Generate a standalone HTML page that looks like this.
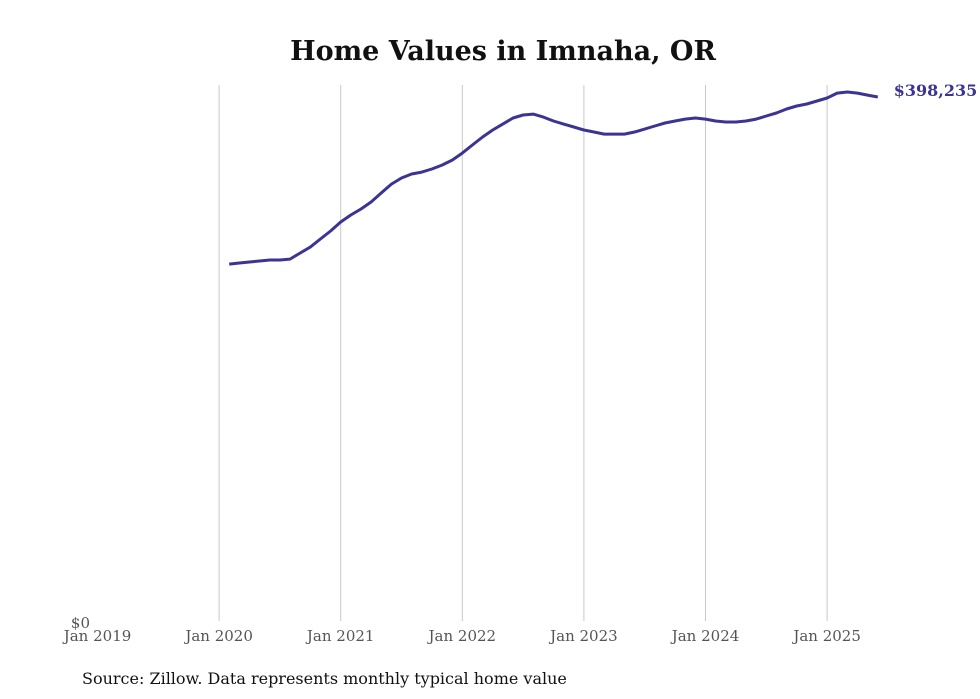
<!DOCTYPE html>
<html><head><meta charset="utf-8"><style>
body{margin:0;background:#fff;}
svg{display:block;font-family:"DejaVu Serif","Liberation Serif",serif;}
</style></head><body>
<svg id="chart" width="980" height="699" viewBox="0 0 980 699">
<text x="503" y="60" text-anchor="middle" font-size="27" font-weight="bold" fill="#111">Home Values in Imnaha, OR</text>
<g id="grid"></g>
<g id="xlabels"></g>
<text x="90" y="628" text-anchor="end" font-size="15" fill="#555">$0</text>
<path id="line" fill="none" stroke="#3b3493" stroke-width="3" stroke-linejoin="round"/>
<text id="endlabel" font-size="16" font-weight="bold" fill="#3b3493"></text>
<text x="82" y="684" font-size="16" fill="#111">Source: Zillow. Data represents monthly typical home value</text>
</svg>
<script>
const tickLabels=["Jan 2019","Jan 2020","Jan 2021","Jan 2022","Jan 2023","Jan 2024","Jan 2025"];
const startMonth=13; // months since Jan 2019 (Feb 2020)
const values=[271500,272300,273100,273800,274600,274600,275300,279900,284400,290500,296600,303400,308700,313300,318600,325400,332200,336800,339800,341300,343600,346600,350400,355700,361800,367900,373200,377700,382300,384600,385300,383000,380000,377700,375500,373200,371700,370100,370100,370100,371700,373900,376200,378500,380000,381500,382300,381500,380000,379300,379300,380000,381500,383800,386100,389100,391400,392900,395200,397500,401200,402000,401200,399700,398235];
const ns="http://www.w3.org/2000/svg";
const x0=97.5,pxPerMonth=121.6/12,yBase=622,yPerVal=525/398235;
const xs=m=>x0+m*pxPerMonth, ys=v=>yBase-v*yPerVal;
const grid=document.getElementById('grid'),xl=document.getElementById('xlabels');
tickLabels.forEach((t,i)=>{
  const x=xs(i*12);
  if(i>0){const l=document.createElementNS(ns,'line');
  
  
  l.setAttribute('x1',x);l.setAttribute('x2',x);l.setAttribute('y1',85);l.setAttribute('y2',621);
  l.setAttribute('stroke','#c8c8c8');l.setAttribute('stroke-width','1');grid.appendChild(l);}
  const tx=document.createElementNS(ns,'text');
  
  
  tx.setAttribute('x',x);tx.setAttribute('y',641);tx.setAttribute('text-anchor','middle');
  tx.setAttribute('font-size','15');tx.setAttribute('fill','#555');tx.textContent=t;xl.appendChild(tx);
});
let d='';values.forEach((v,i)=>{d+=(i?'L':'M')+xs(startMonth+i).toFixed(1)+','+ys(v).toFixed(1);});
document.getElementById('line').setAttribute('d',d);
const last=values[values.length-1],el=document.getElementById('endlabel');
el.setAttribute('x',xs(startMonth+values.length-1)+16);el.setAttribute('y',ys(last)-1);
el.textContent='$'+last.toLocaleString('en-US');
</script>
</body></html>
